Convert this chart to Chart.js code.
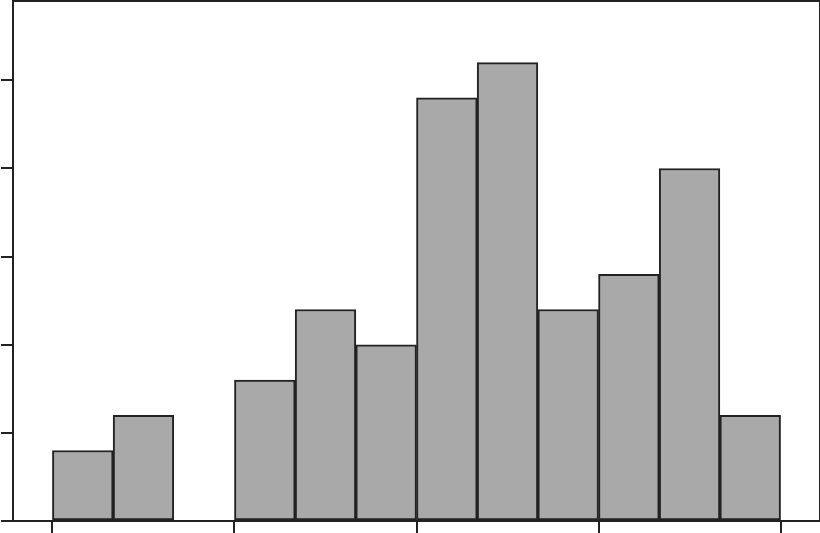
<!DOCTYPE html>
<html>
<head>
<meta charset="utf-8">
<script src="https://cdn.jsdelivr.net/npm/chart.js@4/dist/chart.umd.min.js"></script>
<style>
  html, body { margin: 0; padding: 0; background: #fff; }
  #wrap { width: 820px; height: 533px; }
</style>
</head>
<body>
<div id="wrap"><canvas id="histChart"></canvas></div>
<script>
'use strict';

// bin centres (bins are one unit wide, 0..12)
let binCentres = [0.5, 1.5, 2.5, 3.5, 4.5, 5.5, 6.5, 7.5, 8.5, 9.5, 10.5, 11.5];
// bar heights
let binHeights = [0.8, 1.2, 0, 1.6, 2.4, 2.0, 4.8, 5.2, 2.4, 2.8, 4.0, 1.2];
// tick positions
let xTicks = [0, 3, 6, 9, 12];
let yTicks = [0, 1, 2, 3, 4, 5];

let points = binCentres.map(function (c, i) { return { x: c, y: binHeights[i] }; });

// draws the box round the plot area
const frame = {
  id: 'frame',
  afterDraw(chart) {
    const a = chart.chartArea;
    const ctx = chart.ctx;
    ctx.save();
    ctx.strokeStyle = '#222';
    ctx.lineWidth = 2;
    ctx.strokeRect(a.left, a.top, a.right - a.left, a.bottom - a.top);
    ctx.restore();
  }
};

const ctx = document.getElementById('histChart').getContext('2d');
const histChart = new Chart(ctx, {
  type: 'bar',
  data: {
    datasets: [{
      data: points,
      backgroundColor: '#a9a9a9',
      borderColor: '#222',
      borderWidth: 2,
      borderSkipped: false,
      barPercentage: 1,
      categoryPercentage: 1
    }]
  },
  options: {
    responsive: true,
    maintainAspectRatio: false,
    animation: false,
    layout: { padding: { top: 1, right: 0, left: 1, bottom: 0 } },
    plugins: { legend: { display: false }, tooltip: { enabled: false } },
    scales: {
      x: {
        type: 'linear',
        offset: false,
        min: -0.65,
        max: 12.65,
        afterBuildTicks: function (s) { s.ticks = xTicks.map(function (v) { return { value: v }; }); },
        ticks: { display: false },
        grid: { offset: false, drawOnChartArea: false, drawTicks: true, tickLength: 12, color: '#222', lineWidth: 2 },
        border: { display: true, color: '#222', width: 2 }
      },
      y: {
        min: 0,
        max: 5.9,
        afterBuildTicks: function (s) { s.ticks = yTicks.map(function (v) { return { value: v }; }); },
        ticks: { display: false },
        grid: { drawOnChartArea: false, drawTicks: true, tickLength: 12, color: '#222', lineWidth: 2 },
        border: { display: true, color: '#222', width: 2 }
      }
    }
  },
  plugins: [frame]
});
</script>
</body>
</html>
